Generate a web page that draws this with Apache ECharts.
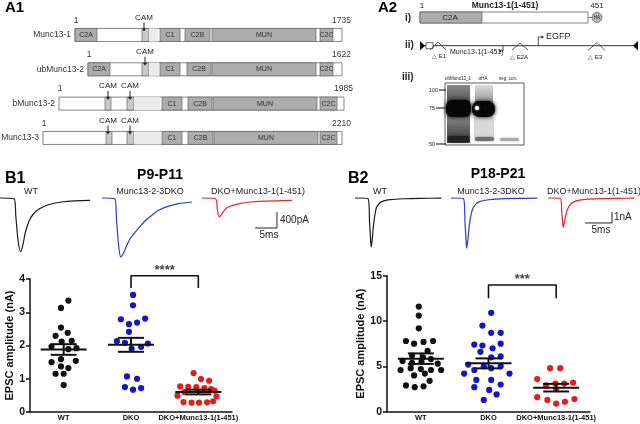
<!DOCTYPE html>
<html>
<head>
<meta charset="utf-8">
<script src="https://cdn.jsdelivr.net/npm/echarts@6/dist/echarts.min.js"></script>
<style>
  html, body { margin: 0; padding: 0; background: #fff; }
  #chart { width: 640px; height: 424px; }
</style>
</head>
<body>
<div id="chart"></div>
<script>
// ---- values ----
var groups = ['WT', 'DKO', 'DKO+Munc13-1(1-451)']

// B1 (P9-P11) EPSC amplitude, nA, with the horizontal spread of each dot (fraction of a group)
var b1WT = [3.35, 3.13, 2.54, 2.38, 2.29, 2.14, 2.12, 1.97, 1.92, 1.89, 1.59, 1.54, 1.50, 1.37, 1.32, 1.15, 1.15, 0.81]
var b1WTJit = [0.07, -0.04, -0.04, 0.06, -0.12, 0.12, -0.03, -0.18, 0.19, 0.07, -0.04, 0.18, -0.18, -0.04, 0.07, -0.12, 0, 0]
var b1DKO = [3.52, 3.21, 2.79, 2.64, 2.69, 2.81, 2.41, 2.13, 2.08, 1.90, 1.96, 2.06, 1.07, 1.00, 0.75, 0.67, 0.72]
var b1DKOJit = [0.03, 0.03, -0.15, -0.03, 0.09, 0.21, -0.03, -0.21, -0.09, 0.01, 0.15, 0.25, -0.06, 0.09, -0.09, 0.03, 0.15]
var b1Res = [1.17, 0.99, 0.94, 0.77, 0.76, 0.75, 0.72, 0.69, 0.60, 0.64, 0.49, 0.47, 0.30, 0.28, 0.28, 0.29, 0.32]
var b1ResJit = [-0.07, 0.04, 0.16, -0.27, -0.15, -0.03, 0.09, 0.19, -0.21, 0.24, -0.31, 0.27, -0.22, -0.1, 0.01, 0.13, 0.22]
var b1Mean = [1.88, 2.02, 0.60]
var b1Sem = [0.16, 0.21, 0.07]

// B2 (P18-P21)
var b2WT = [11.6, 10.6, 9.2, 7.8, 7.5, 7.7, 7.8, 6.7, 6.2, 6.0, 5.6, 5.4, 5.5, 5.8, 5.3, 4.6, 4.8, 4.7, 4.6, 4.6, 4.0, 4.2, 3.4, 2.9, 2.7, 2.8]
var b2WTJit = [-0.03, -0.03, -0.03, -0.22, -0.1, 0.04, 0.18, 0.1, -0.13, 0.03, -0.27, -0.13, 0.01, 0.15, 0.25, -0.3, -0.15, 0, 0.15, 0.3, -0.1, 0.06, 0.13, -0.22, -0.09, 0.04]
var b2DKO = [10.9, 9.5, 8.7, 8.7, 7.4, 7.3, 7.5, 6.6, 7.0, 6.0, 6.1, 5.2, 4.2, 4.6, 5.0, 4.8, 5.0, 4.2, 3.5, 3.5, 3.0, 2.7, 2.4, 1.9, 1.3]
var b2DKOJit = [0.04, -0.09, 0.04, 0.18, -0.21, -0.09, 0.18, -0.12, 0.06, 0.04, 0.18, -0.3, -0.36, -0.21, -0.07, 0.04, 0.18, 0.31, -0.18, 0.04, 0.18, -0.21, 0.01, 0.12, -0.07]
var b2Res = [4.8, 4.8, 3.6, 3.1, 3.1, 3.2, 2.9, 2.5, 1.6, 1.3, 0.9, 1.1, 1.4]
var b2ResJit = [-0.09, 0.06, -0.28, -0.01, 0.12, 0.25, -0.15, 0, -0.28, -0.13, 0, 0.13, 0.27]
var b2Mean = [5.85, 5.33, 2.65]
var b2Sem = [0.58, 0.55, 0.42]

// example EPSC traces: [time ms, current nA]
var b1TraceWT = [[0, 0], [3.2, -0.02], [3.6, -0.45], [4.1, -1.05], [4.7, -1.35], [5.2, -1.18], [5.8, -0.85], [6.6, -0.58], [7.6, -0.4], [9, -0.27], [11, -0.17], [14, -0.1], [17, -0.07], [20.5, -0.06]]
var b1TraceDKO = [[0, 0], [2.9, -0.02], [3.3, -0.55], [3.8, -1.2], [4.25, -1.47], [4.8, -1.4], [5.5, -1.22], [6.4, -1.02], [7.5, -0.86], [8.6, -0.72], [10, -0.55], [11.5, -0.42], [13, -0.3], [15, -0.21], [17.5, -0.14], [20.5, -0.1]]
var b1TraceRes = [[0, 0], [3.1, -0.02], [3.5, -0.3], [3.9, -0.47], [4.4, -0.42], [5, -0.32], [5.6, -0.25], [6.8, -0.19], [8.6, -0.14], [11, -0.1], [14, -0.08], [17, -0.07], [20.5, -0.06]]
var b2TraceWT = [[0, 0], [2.4, -0.05], [2.7, -2.2], [2.9, -3.9], [3.0, -4.45], [3.2, -3.7], [3.4, -2.6], [3.7, -1.5], [4.0, -0.85], [4.6, -0.45], [5.2, -0.28], [6.5, -0.15], [9, -0.07], [12, -0.03], [16, -0.02]]
var b2TraceDKO = [[0, 0], [2.3, -0.05], [2.6, -2.3], [2.8, -4.0], [2.9, -4.57], [3.1, -3.9], [3.3, -2.9], [3.6, -1.8], [4.0, -1.0], [4.6, -0.55], [5.3, -0.33], [6.6, -0.18], [9, -0.08], [12, -0.04], [16, -0.02]]
var b2TraceRes = [[0, 0], [2.3, -0.03], [2.55, -1.3], [2.72, -2.3], [2.83, -2.67], [3.0, -2.3], [3.25, -1.7], [3.6, -1.05], [4.1, -0.6], [4.8, -0.35], [5.8, -0.2], [7.5, -0.11], [10, -0.05], [13, -0.03], [16, -0.02]]
// scale bars: 5 ms / 400 pA and 5 ms / 1 nA
var b1Scale = [5, 0.4]
var b2Scale = [5, 1]

// A1 domain maps (diagram units along each protein)
var proteins = ['Munc13-1', 'ubMunc13-2', 'bMunc13-2', 'Munc13-3']
var proteinLen = ['1735', '1622', '1985', '2210']
var proteinSpan = [[75, 342], [88, 342], [59, 344], [43, 342]]
// [row, start, end, kind, label]; kind 0 = domain, 1 = CaM site, 2 = pale region
var domains = [
  [0, 75, 97, 0, 'C2A'], [0, 142, 149, 1, ''], [0, 149, 158, 2, ''], [0, 160, 180, 0, 'C1'], [0, 185, 210, 0, 'C2B'], [0, 212, 316, 0, 'MUN'], [0, 320, 333, 0, 'C2C'],
  [1, 88, 110, 0, 'C2A'], [1, 142, 149, 1, ''], [1, 149, 159, 2, ''], [1, 160, 180, 0, 'C1'], [1, 187, 211, 0, 'C2B'], [1, 212, 316, 0, 'MUN'], [1, 320, 333, 0, 'C2C'],
  [2, 105, 111, 1, ''], [2, 127, 134, 1, ''], [2, 134, 160, 2, ''], [2, 162, 182, 0, 'C1'], [2, 188, 212, 0, 'C2B'], [2, 213, 317, 0, 'MUN'], [2, 320, 337, 0, 'C2C'],
  [3, 106, 112, 1, ''], [3, 127, 134, 1, ''], [3, 134, 161, 2, ''], [3, 162, 182, 0, 'C1'], [3, 188, 213, 0, 'C2B'], [3, 214, 318, 0, 'MUN'], [3, 320, 337, 0, 'C2C']
]
var camSites = [[0, 144], [1, 145], [2, 108], [2, 130], [3, 108], [3, 130]]

var FONT = '"Liberation Sans", Arial, Helvetica, sans-serif'
var INK = '#111'
var DOT = ['#111111', '#1414c8', '#e31e1e']
var TRACE = ['#1a1a1a', '#2b3cc9', '#e3262b']

var chart = echarts.init(document.getElementById('chart'))

function txt(x, y, s, size, o) {
  o = o || {}
  var al = o.align || 'left', va = o.va || 'middle'
  return {
    type: 'text', x: x, y: y, rotation: o.rot || 0, z: 50,
    style: {
      text: s, fontSize: size, fontWeight: o.bold ? 'bold' : 'normal', fontFamily: FONT,
      fill: o.color || '#222', align: al, textAlign: al, verticalAlign: va, textVerticalAlign: va
    }
  }
}

function hidden(min, max, grid, type) {
  return { type: type || 'value', gridIndex: grid, min: min, max: max, show: false }
}

var grids = [], xAxes = [], yAxes = [], series = []

// grid 0: A1 diagrams
grids.push({ left: 0, top: 17.8, width: 350, height: 137.3 })
xAxes.push(hidden(0, 350, 0))
yAxes.push({ type: 'category', gridIndex: 0, data: proteins, inverse: true, show: false })

// traces, one small grid each, plus a grid for the scale bar
function addTraces(traces, lefts, top, width, height, tmax, ymin, ymax, scale, scaleLeft, scaleY) {
  traces.forEach(function (tr, i) {
    var g = grids.length
    grids.push({ left: lefts[i], top: top, width: width, height: height })
    xAxes.push(hidden(0, tmax, g))
    yAxes.push(hidden(ymin, ymax, g))
    series.push({
      type: 'line', xAxisIndex: g, yAxisIndex: g, data: tr, showSymbol: false, smooth: 0.25,
      lineStyle: { color: TRACE[i], width: 1.2 }, clip: false, silent: true
    })
  })
  var g = grids.length
  var sw = width * scale[0] / tmax
  grids.push({ left: scaleLeft, top: top, width: sw, height: height })
  xAxes.push(hidden(0, scale[0], g))
  yAxes.push(hidden(ymin, ymax, g))
  series.push({
    type: 'line', xAxisIndex: g, yAxisIndex: g, showSymbol: false, clip: false,
    data: [[0, scaleY], [scale[0], scaleY], [scale[0], scaleY + scale[1]]],
    lineStyle: { color: '#222', width: 1 }
  })
}
addTraces([b1TraceWT, b1TraceDKO, b1TraceRes], [0, 102, 202], 194, 90, 64, 20.5, -1.5, 0.1, b1Scale, 255, -0.75)
addTraces([b2TraceWT, b2TraceDKO, b2TraceRes], [355, 451, 548], 192.5, 86.4, 60.5, 16, -5, 0.5, b2Scale, 585, -2.27)

// scatter panels
function addScatter(left, right, top, bottom, ymax, interval, nameGap, lists, jits, means, sems, bracket, stars) {
  var g = grids.length
  grids.push({ left: left, right: right, top: top, bottom: bottom })
  var xi = xAxes.length, yi = yAxes.length
  xAxes.push({
    type: 'value', gridIndex: g, min: 0, max: 3, interval: 0.5,
    axisLine: { show: true, lineStyle: { color: INK, width: 1.5 } },
    axisTick: { show: false }, splitLine: { show: false },
    axisLabel: {
      margin: 2, fontSize: 7.5, fontWeight: 'bold', color: INK, fontFamily: FONT,
      formatter: function (v) { return (v % 1 === 0.5) ? groups[Math.floor(v)] : '' }
    }
  })
  yAxes.push({
    type: 'value', gridIndex: g, min: 0, max: ymax, interval: interval,
    name: 'EPSC amplitude (nA)', nameLocation: 'middle', nameGap: nameGap,
    nameTextStyle: { fontSize: 11, fontWeight: 'bold', color: INK, fontFamily: FONT },
    axisLine: { show: true, lineStyle: { color: INK, width: 1.5 } },
    axisTick: { show: true, length: 4, lineStyle: { color: INK, width: 1.5 } },
    splitLine: { show: false },
    axisLabel: { margin: 5, fontSize: 10.5, fontWeight: 'bold', color: INK, fontFamily: FONT }
  })
  lists.forEach(function (vals, k) {
    series.push({
      type: 'scatter', xAxisIndex: xi, yAxisIndex: yi, symbolSize: 6.2,
      itemStyle: { color: DOT[k], opacity: 1 },
      data: vals.map(function (v, i) { return [k + 0.5 + jits[k][i], v] })
    })
  })
  series.push({
    type: 'custom', xAxisIndex: xi, yAxisIndex: yi, z: 5,
    data: means.map(function (m, k) { return [k + 0.5, m, sems[k]] }),
    renderItem: function (params, api) {
      var x = api.value(0), m = api.value(1), s = api.value(2)
      var c = api.coord([x, m]), hi = api.coord([x, m + s]), lo = api.coord([x, m - s])
      var st = { stroke: INK, lineWidth: 2 }
      return {
        type: 'group', children: [
          { type: 'line', shape: { x1: c[0] - 23, y1: c[1], x2: c[0] + 23, y2: c[1] }, style: st },
          { type: 'line', shape: { x1: c[0], y1: hi[1], x2: c[0], y2: lo[1] }, style: st },
          { type: 'line', shape: { x1: c[0] - 13, y1: hi[1], x2: c[0] + 13, y2: hi[1] }, style: st },
          { type: 'line', shape: { x1: c[0] - 13, y1: lo[1], x2: c[0] + 13, y2: lo[1] }, style: st }
        ]
      }
    }
  })
  series.push({
    type: 'line', xAxisIndex: xi, yAxisIndex: yi, showSymbol: false, clip: false,
    data: [[1.5, bracket[0]], [1.5, bracket[1]], [2.5, bracket[1]], [2.5, bracket[0]]],
    lineStyle: { color: INK, width: 1.6 }
  })
  series.push({
    type: 'scatter', xAxisIndex: xi, yAxisIndex: yi, symbolSize: 0, clip: false,
    data: [[2, bracket[1]]],
    label: { show: true, position: 'top', distance: -1, formatter: stars, fontSize: 13, fontWeight: 'bold', color: INK, fontFamily: FONT }
  })
}
addScatter(30, 408, 279, 12, 4, 1, 14, [b1WT, b1DKO, b1Res], [b1WTJit, b1DKOJit, b1ResJit], b1Mean, b1Sem, [3.73, 4.1], '****')
addScatter(387, 50, 275.7, 12.3, 15, 5, 19, [b2WT, b2DKO, b2Res], [b2WTJit, b2DKOJit, b2ResJit], b2Mean, b2Sem, [12.5, 13.97], '***')

// A1 protein bars, domains, CaM sites
var BAR_H = 13
series.push({
  type: 'custom', xAxisIndex: 0, yAxisIndex: 0, z: 1, clip: false,
  data: proteinSpan.map(function (s, i) { return [i, s[0], s[1]] }),
  encode: { x: [1, 2], y: 0 },
  renderItem: function (params, api) {
    var row = api.value(0)
    var a = api.coord([api.value(1), row]), b = api.coord([api.value(2), row])
    var top = a[1] - BAR_H / 2
    var t = function (x, y, s, al) {
      return { type: 'text', x: x, y: y, style: { text: s, fontSize: 8.5, fontFamily: FONT, fill: '#333', align: al, verticalAlign: 'middle' } }
    }
    return {
      type: 'group', children: [
        { type: 'rect', shape: { x: a[0], y: top, width: b[0] - a[0], height: BAR_H }, style: { fill: '#fff', stroke: '#666', lineWidth: 0.8 } },
        t(a[0] - 4, a[1], proteins[row], 'right'),
        t(a[0] + 1, top - 8, '1', 'center'),
        t(b[0] + 9, top - 8, proteinLen[row], 'right')
      ]
    }
  }
})
series.push({
  type: 'custom', xAxisIndex: 0, yAxisIndex: 0, z: 2, clip: false,
  data: domains.map(function (d) { return [d[0], d[1], d[2], d[3]] }),
  encode: { x: [1, 2], y: 0 },
  renderItem: function (params, api) {
    var row = api.value(0), kind = api.value(3)
    var a = api.coord([api.value(1), row]), b = api.coord([api.value(2), row])
    var fill = ['#acacac', '#c9c9c9', '#ebebeb'][kind]
    var kids = [{
      type: 'rect', shape: { x: a[0], y: a[1] - BAR_H / 2, width: b[0] - a[0], height: BAR_H },
      style: { fill: fill, stroke: kind === 2 ? null : '#666', lineWidth: 0.7 }
    }]
    var lab = domains[params.dataIndex][4]
    if (lab) {
      kids.push({ type: 'text', x: (a[0] + b[0]) / 2, y: a[1], style: { text: lab, fontSize: 7, fontFamily: FONT, fill: '#333', align: 'center', verticalAlign: 'middle' } })
    }
    return { type: 'group', children: kids }
  }
})
series.push({
  type: 'custom', xAxisIndex: 0, yAxisIndex: 0, z: 3, clip: false,
  data: camSites,
  encode: { x: 1, y: 0 },
  renderItem: function (params, api) {
    var p = api.coord([api.value(1), api.value(0)])
    var top = p[1] - BAR_H / 2
    return {
      type: 'group', children: [
        { type: 'text', x: p[0], y: top - 11, style: { text: 'CAM', fontSize: 8, fontFamily: FONT, fill: '#222', align: 'center', verticalAlign: 'middle' } },
        { type: 'line', shape: { x1: p[0], y1: top - 6, x2: p[0], y2: top + 1 }, style: { stroke: '#222', lineWidth: 1 } },
        { type: 'polygon', shape: { points: [[p[0] - 2, top], [p[0] + 2, top], [p[0], top + 3]] }, style: { fill: '#222' } }
      ]
    }
  }
})

// schematic parts of A2, the blot and the text around the panels
var G = echarts.graphic
var blot = [
  { type: 'rect', shape: { x: 445, y: 83, width: 79, height: 62 }, style: { fill: '#fff', stroke: '#333', lineWidth: 0.8 } },
  { type: 'rect', shape: { x: 447, y: 85, width: 23, height: 58 }, style: { fill: new G.LinearGradient(0, 0, 0, 1, [{ offset: 0, color: '#8a8a8a' }, { offset: 0.25, color: '#5a5a5a' }, { offset: 0.6, color: '#7a7a7a' }, { offset: 1, color: '#3a3a3a' }]) } },
  { type: 'rect', shape: { x: 475, y: 85, width: 18, height: 17 }, style: { fill: new G.LinearGradient(0, 0, 0, 1, [{ offset: 0, color: '#dcdcdc' }, { offset: 1, color: '#9a9a9a' }]) } },
  { type: 'rect', shape: { x: 474, y: 117, width: 20, height: 22 }, style: { fill: '#d8d8d8' } },
  { type: 'rect', shape: { x: 446, y: 100, width: 25, height: 17, r: 6 }, style: { fill: '#070707', shadowBlur: 4, shadowColor: '#000' } },
  { type: 'rect', shape: { x: 472, y: 101, width: 23, height: 16, r: 7 }, style: { fill: '#070707', shadowBlur: 4, shadowColor: '#000' } },
  { type: 'circle', shape: { cx: 477, cy: 108, r: 2 }, style: { fill: '#fff', shadowBlur: 2, shadowColor: '#fff' } },
  { type: 'rect', shape: { x: 448, y: 136, width: 21, height: 6, r: 2 }, style: { fill: '#222', shadowBlur: 3, shadowColor: '#222' } },
  { type: 'rect', shape: { x: 475, y: 137, width: 19, height: 4, r: 2 }, style: { fill: '#707070', shadowBlur: 2, shadowColor: '#707070' } },
  { type: 'rect', shape: { x: 500, y: 138, width: 19, height: 3, r: 1.5 }, style: { fill: '#a8a8a8', shadowBlur: 2, shadowColor: '#a8a8a8' } },
  { type: 'line', shape: { x1: 439, y1: 90, x2: 446, y2: 90 }, style: { stroke: '#333', lineWidth: 1.2 } },
  { type: 'line', shape: { x1: 436, y1: 108, x2: 446, y2: 108 }, style: { stroke: '#333', lineWidth: 1.2 } },
  { type: 'line', shape: { x1: 436, y1: 144, x2: 446, y2: 144 }, style: { stroke: '#333', lineWidth: 1.2 } },
  txt(438, 90, '100', 5.5, { align: 'right' }), txt(435, 108, '75', 5.5, { align: 'right' }), txt(435, 144, '50', 5.5, { align: 'right' }),
  txt(458, 79, 'ubMunc13_1', 4.5, { align: 'center' }), txt(483, 79, '\u03b1HA', 4.5, { align: 'center' }), txt(508, 79, 'neg. con.', 4.5, { align: 'center' })
]

var a2 = [
  txt(405, 18, 'i)', 10, { bold: true }), txt(405, 45, 'ii)', 10, { bold: true }), txt(402, 77, 'iii)', 10, { bold: true }),
  txt(422, 6, '1', 8, { align: 'center' }), txt(505, 6, 'Munc13-1(1-451)', 8.5, { align: 'center', bold: true }), txt(597, 6, '451', 8, { align: 'center' }),
  { type: 'rect', shape: { x: 420, y: 12, width: 168, height: 11 }, style: { fill: '#fff', stroke: '#666', lineWidth: 0.8 } },
  { type: 'rect', shape: { x: 420, y: 12, width: 62, height: 11 }, style: { fill: '#acacac', stroke: '#666', lineWidth: 0.8 } },
  txt(450, 17.5, 'C2A', 8, { align: 'center' }),
  { type: 'line', shape: { x1: 588, y1: 17.5, x2: 592, y2: 17.5 }, style: { stroke: '#666', lineWidth: 0.8 } },
  { type: 'circle', shape: { cx: 597, cy: 17.5, r: 5 }, style: { fill: '#b5b5b5', stroke: '#666', lineWidth: 0.8 } },
  txt(597, 17.5, 'HA', 4.5, { align: 'center' }),
  { type: 'line', shape: { x1: 424, y1: 45.7, x2: 634, y2: 45.7 }, style: { stroke: '#333', lineWidth: 1 } },
  { type: 'polygon', shape: { points: [[420, 41], [420, 50.5], [425, 45.7]] }, style: { fill: '#111' } },
  { type: 'polygon', shape: { points: [[638, 41], [638, 50.5], [633, 45.7]] }, style: { fill: '#111' } },
  { type: 'rect', shape: { x: 426, y: 42.7, width: 7, height: 6 }, style: { fill: '#fff', stroke: '#444', lineWidth: 0.8 } },
  { type: 'polyline', shape: { points: [[430, 50], [438, 42], [446, 50]] }, style: { stroke: '#333', lineWidth: 0.8, fill: null } },
  { type: 'polyline', shape: { points: [[512, 50], [520, 43], [528, 50]] }, style: { stroke: '#333', lineWidth: 0.8, fill: null } },
  { type: 'polyline', shape: { points: [[588, 50.5], [597, 42.5], [605, 50.5]] }, style: { stroke: '#333', lineWidth: 0.8, fill: null } },
  txt(432, 56, '\u25b3 E1', 6, {}), txt(510, 57, '\u25b3 E2A', 6, {}), txt(588, 57, '\u25b3 E3', 6, {}),
  txt(450, 52.5, 'Munc13-1(1-451)', 7, {}),
  { type: 'polyline', shape: { points: [[503, 46], [503, 51], [500, 51]] }, style: { stroke: '#333', lineWidth: 0.9, fill: null } },
  { type: 'polygon', shape: { points: [[501, 49.5], [501, 52.5], [498.5, 51]] }, style: { fill: '#333' } },
  { type: 'polyline', shape: { points: [[538.3, 45.7], [538.3, 37], [542, 37]] }, style: { stroke: '#333', lineWidth: 0.9, fill: null } },
  { type: 'polygon', shape: { points: [[541.5, 35.3], [541.5, 38.7], [544, 37]] }, style: { fill: '#333' } },
  txt(546, 37, 'EGFP', 9, {})
]

var labels = [
  txt(5, 8, 'A1', 15, { bold: true, color: '#000' }), txt(378, 8, 'A2', 15, { bold: true, color: '#000' }),
  txt(5, 179, 'B1', 16, { bold: true, color: '#000' }), txt(348, 179, 'B2', 16, { bold: true, color: '#000' }),
  txt(160, 175, 'P9-P11', 14, { bold: true, align: 'center', color: '#000' }),
  txt(498, 174, 'P18-P21', 14, { bold: true, align: 'center', color: '#000' }),
  txt(31, 192, 'WT', 9, { align: 'center' }), txt(150, 192, 'Munc13-2-3DKO', 9, { align: 'center' }), txt(258, 192, 'DKO+Munc13-1(1-451)', 9, { align: 'center' }),
  txt(380, 192, 'WT', 9, { align: 'center' }), txt(491, 192, 'Munc13-2-3DKO', 9, { align: 'center' }), txt(594, 192, 'DKO+Munc13-1(1-451)', 9, { align: 'center' }),
  txt(280, 220, '400pA', 10, {}), txt(269, 235, '5ms', 10, { align: 'center' }),
  txt(614, 217, '1nA', 10, {}), txt(601, 230.5, '5ms', 10, { align: 'center' })
]

chart.setOption({
  animation: false,
  backgroundColor: '#fff',
  textStyle: { fontFamily: FONT },
  grid: grids,
  xAxis: xAxes,
  yAxis: yAxes,
  series: series,
  graphic: { elements: blot.concat(a2, labels) }
})
</script>
</body>
</html>
